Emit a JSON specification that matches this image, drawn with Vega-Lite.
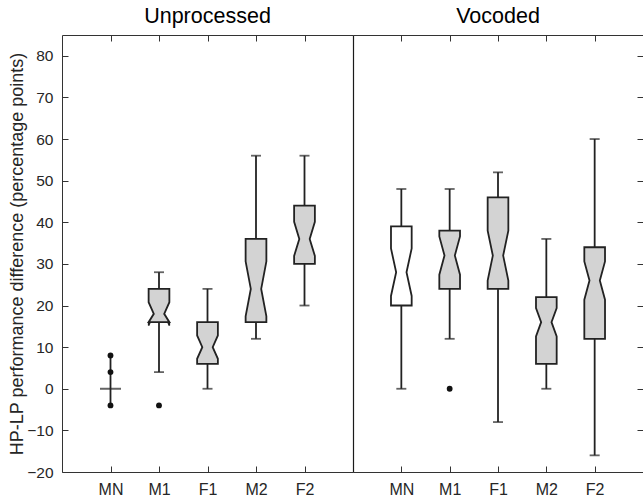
{
  "$schema": "https://vega.github.io/schema/vega-lite/v6.json",
  "padding": {"left": 8, "top": 6, "right": 0, "bottom": 0},
  "background": "white",
  "spacing": 0,
  "config": {
    "font": "Liberation Sans",
    "view": {"stroke": null},
    "axis": {"grid": false, "domainColor": "#333333", "domainWidth": 1, "tickColor": "#333333", "tickSize": 6, "tickWidth": 1, "labelColor": "#262626", "labelFont": "Liberation Sans", "labelFontSize": 15.5, "titleFont": "Liberation Sans", "titleFontWeight": "normal", "titleColor": "#262626", "titleFontSize": 18, "labelFlush": false},
    "title": {"font": "Liberation Sans", "fontSize": 21.5, "fontWeight": "normal", "color": "#000000", "anchor": "middle", "offset": 7, "frame": "group"}
  },
  "datasets": {
    "boxes": [
      {"cond": "Unprocessed", "cat": "MN", "q1": 0, "q3": 0, "med": 0, "nlo": 0, "nhi": 0, "wlo": -4, "whi": 8},
      {"cond": "Unprocessed", "cat": "M1", "q1": 16, "q3": 24, "med": 18, "nlo": 15.2, "nhi": 20.8, "wlo": 4, "whi": 28},
      {"cond": "Unprocessed", "cat": "F1", "q1": 6, "q3": 16, "med": 10, "nlo": 7.2, "nhi": 12.8, "wlo": 0, "whi": 24},
      {"cond": "Unprocessed", "cat": "M2", "q1": 16, "q3": 36, "med": 24, "nlo": 17.4, "nhi": 30.6, "wlo": 12, "whi": 56},
      {"cond": "Unprocessed", "cat": "F2", "q1": 30, "q3": 44, "med": 36, "nlo": 31.9, "nhi": 40.1, "wlo": 20, "whi": 56},
      {"cond": "Vocoded", "cat": "MN", "q1": 20, "q3": 39, "med": 28, "nlo": 22.3, "nhi": 33.7, "wlo": 0, "whi": 48},
      {"cond": "Vocoded", "cat": "M1", "q1": 24, "q3": 38, "med": 32, "nlo": 27.4, "nhi": 36.6, "wlo": 12, "whi": 48},
      {"cond": "Vocoded", "cat": "F1", "q1": 24, "q3": 46, "med": 32, "nlo": 26, "nhi": 38, "wlo": -8, "whi": 52},
      {"cond": "Vocoded", "cat": "M2", "q1": 6, "q3": 22, "med": 16, "nlo": 12.6, "nhi": 19.4, "wlo": 0, "whi": 36},
      {"cond": "Vocoded", "cat": "F2", "q1": 12, "q3": 34, "med": 26, "nlo": 21.4, "nhi": 30.6, "wlo": -16, "whi": 60}
    ],
    "outliers": [
      {"cond": "Unprocessed", "cat": "MN", "value": 8},
      {"cond": "Unprocessed", "cat": "MN", "value": 4},
      {"cond": "Unprocessed", "cat": "MN", "value": -4},
      {"cond": "Unprocessed", "cat": "M1", "value": -4},
      {"cond": "Vocoded", "cat": "M1", "value": 0}
    ]
  },
  "hconcat": [
    {
      "width": 291,
      "height": 437,
      "title": "Unprocessed",
      "resolve": {"axis": {"x": "independent", "y": "independent"}},
      "layer": [
        {
          "data": {"name": "boxes"},
          "transform": [
            {"filter": "datum.cond === 'Unprocessed'"},
            {"calculate": "indexof(['MN','M1','F1','M2','F2'], datum.cat) + 1", "as": "pos"}
          ],
          "mark": {"type": "rule", "color": "#222222", "strokeWidth": 1.8},
          "encoding": {
            "x": {"field": "pos", "type": "quantitative", "scale": {"domain": [0, 6], "nice": false, "zero": false}, "axis": {"orient": "bottom", "values": [1, 2, 3, 4, 5], "labelExpr": "['MN','M1','F1','M2','F2'][datum.value - 1]", "title": null, "ticks": false, "domain": true, "labelPadding": 9, "labelFontSize": 16}},
            "y": {"field": "wlo", "type": "quantitative", "scale": {"domain": [-20, 85], "nice": false, "zero": false}, "axis": {"orient": "left", "values": [-20, -10, 0, 10, 20, 30, 40, 50, 60, 70, 80], "title": "HP-LP performance difference (percentage points)", "ticks": false, "domain": true, "labelPadding": 9, "titlePadding": 0}},
            "y2": {"field": "whi"}
          }
        },
        {
          "data": {"name": "boxes"},
          "transform": [
            {"filter": "datum.cond === 'Unprocessed' && datum.q3 > datum.q1"},
            {"calculate": "indexof(['MN','M1','F1','M2','F2'], datum.cat) + 1", "as": "pos"}
          ],
          "mark": {"type": "tick", "orient": "horizontal", "color": "#222222", "size": 10, "thickness": 1.8},
          "encoding": {
            "x": {"field": "pos", "type": "quantitative", "axis": {"orient": "bottom", "values": [1, 2, 3, 4, 5], "labels": false, "ticks": true, "domain": false, "offset": -6, "title": null}},
            "y": {"field": "whi", "type": "quantitative", "axis": {"orient": "left", "values": [-20, -10, 0, 10, 20, 30, 40, 50, 60, 70, 80], "labels": false, "ticks": true, "domain": false, "offset": -6, "title": null}}
          }
        },
        {
          "data": {"name": "boxes"},
          "transform": [
            {"filter": "datum.cond === 'Unprocessed' && datum.q3 > datum.q1"},
            {"calculate": "indexof(['MN','M1','F1','M2','F2'], datum.cat) + 1", "as": "pos"}
          ],
          "mark": {"type": "tick", "orient": "horizontal", "color": "#222222", "size": 10, "thickness": 1.8},
          "encoding": {
            "x": {"field": "pos", "type": "quantitative", "axis": {"orient": "top", "values": [1, 2, 3, 4, 5], "labels": false, "ticks": true, "domain": false, "offset": -6, "title": null}},
            "y": {"field": "wlo", "type": "quantitative", "axis": null}
          }
        },
        {
          "data": {"name": "boxes"},
          "transform": [
            {"filter": "datum.cond === 'Unprocessed' && datum.q3 > datum.q1"},
            {"calculate": "indexof(['MN','M1','F1','M2','F2'], datum.cat) + 1", "as": "pos"},
            {"fold": ["q1", "nlo", "med", "nhi", "q3"], "as": ["k", "v0"]},
            {"calculate": "datum.k === 'nlo' ? max(datum.v0, datum.q1) : datum.k === 'nhi' ? min(datum.v0, datum.q3) : datum.v0", "as": "v"},
            {"calculate": "datum.pos - (datum.k === 'med' ? 0.107 : 0.214)", "as": "xl"},
            {"calculate": "datum.pos + (datum.k === 'med' ? 0.107 : 0.214)", "as": "xr"}
          ],
          "mark": {"type": "area", "orient": "horizontal", "fill": "#d3d3d3", "stroke": "#222222", "strokeWidth": 1.8, "fillOpacity": 1, "opacity": 1},
          "encoding": {
            "y": {"field": "v", "type": "quantitative", "axis": null},
            "x": {"field": "xl", "type": "quantitative", "axis": {"orient": "top", "labels": false, "ticks": false, "domain": true, "title": null}},
            "x2": {"field": "xr"},
            "detail": {"field": "cat", "type": "nominal"}
          }
        },
        {
          "data": {"name": "boxes"},
          "transform": [
            {"filter": "datum.cond === 'Unprocessed' && datum.nlo < datum.q1"},
            {"calculate": "indexof(['MN','M1','F1','M2','F2'], datum.cat) + 1", "as": "pos"},
            {"calculate": "[-1, 1]", "as": "sides"},
            {"flatten": ["sides"], "as": ["side"]},
            {"calculate": "datum.pos + datum.side * 0.214", "as": "xe"},
            {"calculate": "datum.pos + datum.side * (0.214 - 0.107 * (datum.q1 - datum.nlo) / (datum.med - datum.nlo))", "as": "xd"}
          ],
          "layer": [
            {
              "mark": {"type": "rule", "color": "#222222", "strokeWidth": 1.5},
              "encoding": {
                "x": {"field": "xe", "type": "quantitative", "axis": null},
                "y": {"field": "nlo", "type": "quantitative", "axis": null},
                "y2": {"field": "q1"}
              }
            },
            {
              "mark": {"type": "rule", "color": "#222222", "strokeWidth": 1.5},
              "encoding": {
                "x": {"field": "xe", "type": "quantitative", "axis": null},
                "x2": {"field": "xd"},
                "y": {"field": "nlo", "type": "quantitative", "axis": null},
                "y2": {"field": "q1"}
              }
            }
          ]
        },
        {
          "data": {"name": "boxes"},
          "transform": [
            {"filter": "datum.cond === 'Unprocessed' && datum.q3 == datum.q1"},
            {"calculate": "indexof(['MN','M1','F1','M2','F2'], datum.cat) + 1", "as": "pos"}
          ],
          "mark": {"type": "tick", "orient": "horizontal", "color": "#222222", "size": 21, "thickness": 2},
          "encoding": {
            "x": {"field": "pos", "type": "quantitative", "axis": null},
            "y": {"field": "med", "type": "quantitative", "axis": null}
          }
        },
        {
          "data": {"name": "outliers"},
          "transform": [
            {"filter": "datum.cond === 'Unprocessed'"},
            {"calculate": "indexof(['MN','M1','F1','M2','F2'], datum.cat) + 1", "as": "pos"}
          ],
          "mark": {"type": "point", "filled": true, "color": "#111111", "size": 34, "opacity": 1},
          "encoding": {
            "x": {"field": "pos", "type": "quantitative", "axis": null},
            "y": {"field": "value", "type": "quantitative", "axis": null}
          }
        }
      ]
    },
    {
      "width": 290,
      "height": 437,
      "title": "Vocoded",
      "resolve": {"axis": {"x": "independent", "y": "independent"}},
      "layer": [
        {
          "data": {"name": "boxes"},
          "transform": [
            {"filter": "datum.cond === 'Vocoded'"},
            {"calculate": "indexof(['MN','M1','F1','M2','F2'], datum.cat) + 1", "as": "pos"}
          ],
          "mark": {"type": "rule", "color": "#222222", "strokeWidth": 1.8},
          "encoding": {
            "x": {"field": "pos", "type": "quantitative", "scale": {"domain": [0, 6], "nice": false, "zero": false}, "axis": {"orient": "bottom", "values": [1, 2, 3, 4, 5], "labelExpr": "['MN','M1','F1','M2','F2'][datum.value - 1]", "title": null, "ticks": false, "domain": true, "labelPadding": 9, "labelFontSize": 16}},
            "y": {"field": "wlo", "type": "quantitative", "scale": {"domain": [-20, 85], "nice": false, "zero": false}, "axis": {"orient": "left", "values": [-20, 80], "labels": false, "ticks": false, "domain": true, "domainColor": "#1a1a1a", "domainWidth": 1.2, "title": null}},
            "y2": {"field": "whi"}
          }
        },
        {
          "data": {"name": "boxes"},
          "transform": [
            {"filter": "datum.cond === 'Vocoded' && datum.q3 > datum.q1"},
            {"calculate": "indexof(['MN','M1','F1','M2','F2'], datum.cat) + 1", "as": "pos"}
          ],
          "mark": {"type": "tick", "orient": "horizontal", "color": "#222222", "size": 10, "thickness": 1.8},
          "encoding": {
            "x": {"field": "pos", "type": "quantitative", "axis": {"orient": "bottom", "values": [1, 2, 3, 4, 5], "labels": false, "ticks": true, "domain": false, "offset": -6, "title": null}},
            "y": {"field": "whi", "type": "quantitative", "axis": {"orient": "right", "values": [-20, -10, 0, 10, 20, 30, 40, 50, 60, 70, 80], "labels": false, "ticks": true, "domain": false, "offset": -6, "title": null}}
          }
        },
        {
          "data": {"name": "boxes"},
          "transform": [
            {"filter": "datum.cond === 'Vocoded' && datum.q3 > datum.q1"},
            {"calculate": "indexof(['MN','M1','F1','M2','F2'], datum.cat) + 1", "as": "pos"}
          ],
          "mark": {"type": "tick", "orient": "horizontal", "color": "#222222", "size": 10, "thickness": 1.8},
          "encoding": {
            "x": {"field": "pos", "type": "quantitative", "axis": {"orient": "top", "values": [1, 2, 3, 4, 5], "labels": false, "ticks": true, "domain": false, "offset": -6, "title": null}},
            "y": {"field": "wlo", "type": "quantitative", "axis": null}
          }
        },
        {
          "data": {"name": "boxes"},
          "transform": [
            {"filter": "datum.cond === 'Vocoded' && datum.q3 > datum.q1 && datum.cat !== 'MN'"},
            {"calculate": "indexof(['MN','M1','F1','M2','F2'], datum.cat) + 1", "as": "pos"},
            {"fold": ["q1", "nlo", "med", "nhi", "q3"], "as": ["k", "v0"]},
            {"calculate": "datum.k === 'nlo' ? max(datum.v0, datum.q1) : datum.k === 'nhi' ? min(datum.v0, datum.q3) : datum.v0", "as": "v"},
            {"calculate": "datum.pos - (datum.k === 'med' ? 0.107 : 0.214)", "as": "xl"},
            {"calculate": "datum.pos + (datum.k === 'med' ? 0.107 : 0.214)", "as": "xr"}
          ],
          "mark": {"type": "area", "orient": "horizontal", "fill": "#d3d3d3", "stroke": "#222222", "strokeWidth": 1.8, "fillOpacity": 1, "opacity": 1},
          "encoding": {
            "y": {"field": "v", "type": "quantitative", "axis": null},
            "x": {"field": "xl", "type": "quantitative", "axis": {"orient": "top", "labels": false, "ticks": false, "domain": true, "title": null}},
            "x2": {"field": "xr"},
            "detail": {"field": "cat", "type": "nominal"}
          }
        },
        {
          "data": {"name": "boxes"},
          "transform": [
            {"filter": "datum.cond === 'Vocoded' && datum.q3 > datum.q1 && datum.cat === 'MN'"},
            {"calculate": "indexof(['MN','M1','F1','M2','F2'], datum.cat) + 1", "as": "pos"},
            {"fold": ["q1", "nlo", "med", "nhi", "q3"], "as": ["k", "v0"]},
            {"calculate": "datum.k === 'nlo' ? max(datum.v0, datum.q1) : datum.k === 'nhi' ? min(datum.v0, datum.q3) : datum.v0", "as": "v"},
            {"calculate": "datum.pos - (datum.k === 'med' ? 0.107 : 0.214)", "as": "xl"},
            {"calculate": "datum.pos + (datum.k === 'med' ? 0.107 : 0.214)", "as": "xr"}
          ],
          "mark": {"type": "area", "orient": "horizontal", "fill": "#ffffff", "stroke": "#222222", "strokeWidth": 1.8, "fillOpacity": 1, "opacity": 1},
          "encoding": {
            "y": {"field": "v", "type": "quantitative", "axis": null},
            "x": {"field": "xl", "type": "quantitative", "axis": null},
            "x2": {"field": "xr"},
            "detail": {"field": "cat", "type": "nominal"}
          }
        },
        {
          "data": {"name": "outliers"},
          "transform": [
            {"filter": "datum.cond === 'Vocoded'"},
            {"calculate": "indexof(['MN','M1','F1','M2','F2'], datum.cat) + 1", "as": "pos"}
          ],
          "mark": {"type": "point", "filled": true, "color": "#111111", "size": 34, "opacity": 1},
          "encoding": {
            "x": {"field": "pos", "type": "quantitative", "axis": null},
            "y": {"field": "value", "type": "quantitative", "axis": null}
          }
        }
      ]
    }
  ]
}
